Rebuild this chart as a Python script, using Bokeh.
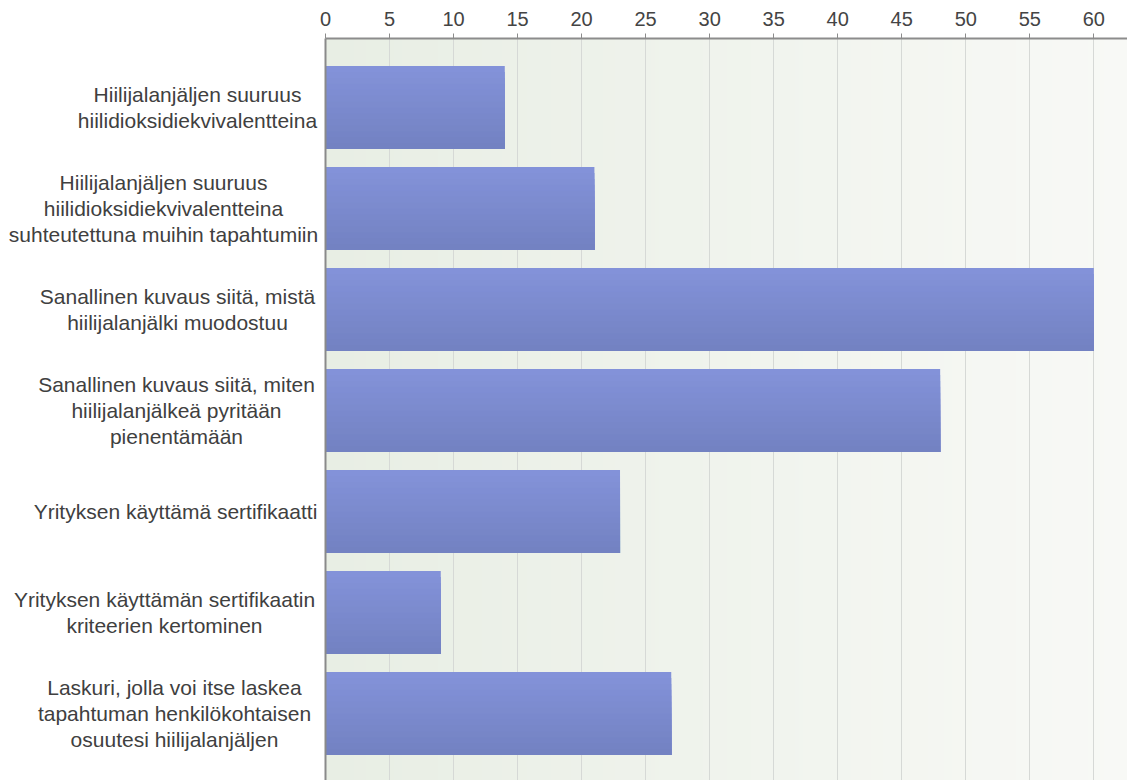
import numpy as np
from bokeh.plotting import figure
from bokeh.layouts import row
from bokeh.models import Range1d, FixedTicker
from bokeh.core.properties import value
from bokeh.embed import file_html
from bokeh.resources import INLINE

categories = [
    "Hiilijalanjäljen suuruus\nhiilidioksidiekvivalentteina",
    "Hiilijalanjäljen suuruus\nhiilidioksidiekvivalentteina\nsuhteutettuna muihin tapahtumiin",
    "Sanallinen kuvaus siitä, mistä\nhiilijalanjälki muodostuu",
    "Sanallinen kuvaus siitä, miten\nhiilijalanjälkeä pyritään\npienentämään",
    "Yrityksen käyttämä sertifikaatti",
    "Yrityksen käyttämän sertifikaatin\nkriteerien kertominen",
    "Laskuri, jolla voi itse laskea\ntapahtuman henkilökohtaisen\nosuutesi hiilijalanjäljen",
]
values = [14, 21, 60, 48, 23, 9, 27]
x_ticks = [0, 5, 10, 15, 20, 25, 30, 35, 40, 45, 50, 55, 60]

# layout: horizontal centre (px) of each label block in the label column
label_centre_px = [197, 163, 177, 176, 175, 164, 174]

LEFT_W = 319
MAIN_BORDER = 6
MAIN_W = 1127 - LEFT_W
H = 780
TOP = 38
X_MAX = 62.63
n = len(categories)
pos = list(range(n))
y_lo, y_hi = -0.683, n - 1 + 0.663
y_range = Range1d(y_hi, y_lo)

# ---- label column
lf = figure(width=LEFT_W, height=H, output_backend="svg", toolbar_location=None,
            x_range=Range1d(0, LEFT_W), y_range=y_range,
            min_border_left=0, min_border_right=0, min_border_top=TOP, min_border_bottom=0)
lf.axis.visible = False
lf.grid.visible = False
lf.outline_line_color = None
lf.text(x=label_centre_px, y=pos, text=categories, text_align="center",
        text_baseline="middle", text_font=value("Liberation Sans"),
        text_font_size="21px", text_color="#404040", text_line_height=1.13)

# ---- main chart
p = figure(width=MAIN_W, height=H, output_backend="svg", toolbar_location=None,
           x_axis_location="above",
           x_range=Range1d(0, X_MAX), y_range=y_range,
           min_border_left=MAIN_BORDER, min_border_right=0, min_border_top=TOP,
           min_border_bottom=0)
p.outline_line_color = None
p.background_fill_color = "#f0f3ee"

# background gradient (left greenish -> right lighter)
c0 = np.array([0xe8, 0xee, 0xe4], dtype=float)
c1 = np.array([0xf8, 0xf9, 0xf6], dtype=float)
W = 200
t = np.linspace(0, 1, W)
img = np.zeros((1, W), dtype=np.uint32)
view = img.view(dtype=np.uint8).reshape((1, W, 4))
cols = (c0[None, :] * (1 - t[:, None]) + c1[None, :] * t[:, None]).round().astype(np.uint8)
view[0, :, 0:3] = cols
view[0, :, 3] = 255
bg = p.image_rgba(image=[img], x=0, y=y_lo, dw=X_MAX, dh=y_hi - y_lo)
bg.level = "image"

# bars with vertical gradient (stacked slices, later ones cover lower part)
bar_h = 0.82
N = 14
top_c = np.array([0x83, 0x92, 0xd9], dtype=float)
bot_c = np.array([0x73, 0x82, 0xc2], dtype=float)
for k in range(N):
    f = k / (N - 1)
    c = top_c * (1 - f) + bot_c * f
    col = "#%02x%02x%02x" % tuple(int(round(v)) for v in c)
    top = [i - bar_h / 2 + k * bar_h / N for i in pos]
    bottom = [i + bar_h / 2 for i in pos]
    p.quad(left=0, right=values, top=top, bottom=bottom, fill_color=col, line_color=None)

# axes
p.xaxis.ticker = FixedTicker(ticks=x_ticks)
p.xaxis.major_label_text_font = "Liberation Sans"
p.xaxis.major_label_text_font_size = "20px"
p.xaxis.major_label_text_color = "#444444"
p.xaxis.major_label_standoff = 8
p.xaxis.axis_line_color = "#8c8c8c"
p.xaxis.axis_line_width = 2
p.xaxis.major_tick_line_color = "#8c8c8c"
p.xaxis.major_tick_out = 5
p.xaxis.major_tick_in = 0
p.xaxis.minor_tick_line_color = None

p.yaxis.ticker = FixedTicker(ticks=[])
p.yaxis.axis_line_color = "#8a8a8a"
p.yaxis.axis_line_width = 2
p.yaxis.major_tick_line_color = None
p.yaxis.minor_tick_line_color = None
p.yaxis.major_tick_out = 0
p.yaxis.major_tick_in = 0
p.yaxis.major_label_standoff = 0
p.yaxis.axis_label_standoff = 0

p.xgrid.grid_line_color = "#d6d9d6"
p.xgrid.grid_line_width = 1
p.ygrid.grid_line_color = None

layout = row(lf, p)
open("out.html", "w").write(file_html(layout, INLINE))
